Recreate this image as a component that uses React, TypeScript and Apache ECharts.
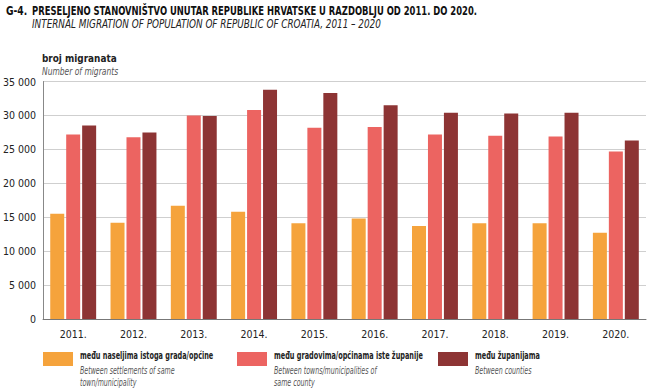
import React, { useEffect, useRef } from "react";
import * as echarts from "echarts";

const years = ["2011.", "2012.", "2013.", "2014.", "2015.", "2016.", "2017.", "2018.", "2019.", "2020."];
const withinTown = [15500, 14200, 16700, 15800, 14100, 14800, 13700, 14100, 14100, 12700];
const withinCounty = [27200, 26800, 30000, 30800, 28200, 28300, 27200, 27000, 26900, 24700];
const betweenCounties = [28500, 27500, 29900, 33800, 33300, 31500, 30400, 30300, 30400, 26300];

const seriesNames = [
  "među naseljima istoga grada/općine",
  "među gradovima/općinama iste županije",
  "među županijama",
];
const seriesNamesEn = [
  ["Between settlements of same", "town/municipality"],
  ["Between towns/municipalities of", "same county"],
  ["Between counties"],
];
const colors = ["#F5A33C", "#EC6461", "#8D3434"];

const FONT = "'DejaVu Sans Condensed', 'Liberation Sans Narrow', 'Roboto', sans-serif";

export default function App() {
  const ref = useRef<HTMLDivElement>(null);
  useEffect(() => {
    if (!ref.current) return;
    const chart = echarts.init(ref.current, null, { renderer: "svg" });
    const legendX = [43, 237, 438];
    const legendRects: any[] = [];
    const legendTexts: any[] = [];
    seriesNames.forEach((n, i) => {
      legendRects.push({
        type: "rect",
        shape: { x: legendX[i], y: 352, width: 30, height: 14 },
        style: { fill: colors[i] },
      });
      legendTexts.push({
        type: "text",
        x: legendX[i] + 37,
        y: 356,
        scaleX: 0.69,
        style: { text: n, font: `bold 10.5px ${FONT}`, fill: "#222", textVerticalAlign: "middle" },
      });
      seriesNamesEn[i].forEach((t, j) => {
        legendTexts.push({
          type: "text",
          x: legendX[i] + 37,
          y: 370 + j * 12.5,
          scaleX: 0.67,
          style: { text: t, font: `italic 10.5px ${FONT}`, fill: "#555", textVerticalAlign: "middle" },
        });
      });
    });
    chart.setOption({
      animation: false,
      grid: { left: 43, right: 9, top: 81.5, bottom: 73, containLabel: false },
      xAxis: {
        type: "category",
        data: years,
        axisTick: { show: false },
        axisLine: { lineStyle: { color: "#777", width: 1 } },
        axisLabel: { color: "#222", fontSize: 10.5, fontFamily: FONT, margin: 9 },
      },
      yAxis: {
        type: "value",
        min: 0,
        max: 35000,
        interval: 5000,
        axisLine: { show: true, lineStyle: { color: "#888" } },
        axisTick: { show: false },
        splitLine: { lineStyle: { color: "#cfcfcf" } },
        axisLabel: {
          color: "#222",
          fontSize: 10.5,
          fontFamily: FONT,
          margin: 7,
          formatter: (v: number) => (v >= 1000 ? `${Math.floor(v / 1000)} ${String(v % 1000).padStart(3, "0")}` : String(v)),
        },
      },
      series: [withinTown, withinCounty, betweenCounties].map((d, i) => ({
        type: "bar",
        name: seriesNames[i],
        data: d,
        barWidth: 14,
        barGap: "14%",
        itemStyle: { color: colors[i] },
      })),
      graphic: [
        { type: "text", x: 6, y: 11, scaleX: 0.85, style: { text: "G-4.", font: `bold 12px ${FONT}`, fill: "#111", textVerticalAlign: "middle" } },
        {
          type: "text",
          x: 32,
          y: 11,
          scaleX: 0.78,
          style: {
            text: "PRESELJENO STANOVNIŠTVO UNUTAR REPUBLIKE HRVATSKE U RAZDOBLJU OD 2011. DO 2020.",
            font: `bold 12px ${FONT}`,
            fill: "#111",
            textVerticalAlign: "middle",
          },
        },
        {
          type: "text",
          x: 32,
          y: 24.5,
          scaleX: 0.82,
          style: {
            text: "INTERNAL MIGRATION OF POPULATION OF REPUBLIC OF CROATIA, 2011 – 2020",
            font: `italic 12px ${FONT}`,
            fill: "#222",
            textVerticalAlign: "middle",
          },
        },
        { type: "text", x: 42, y: 57.5, scaleX: 0.9, style: { text: "broj migranata", font: `bold 11px ${FONT}`, fill: "#222", textVerticalAlign: "middle" } },
        { type: "text", x: 42, y: 71, scaleX: 0.8, style: { text: "Number of migrants", font: `italic 10.5px ${FONT}`, fill: "#555", textVerticalAlign: "middle" } },
        ...legendRects,
        ...legendTexts,
      ],
    });
    return () => chart.dispose();
  }, []);
  return <div ref={ref} style={{ width: 655, height: 392, position: "absolute", left: 0, top: 0 }} />;
}
